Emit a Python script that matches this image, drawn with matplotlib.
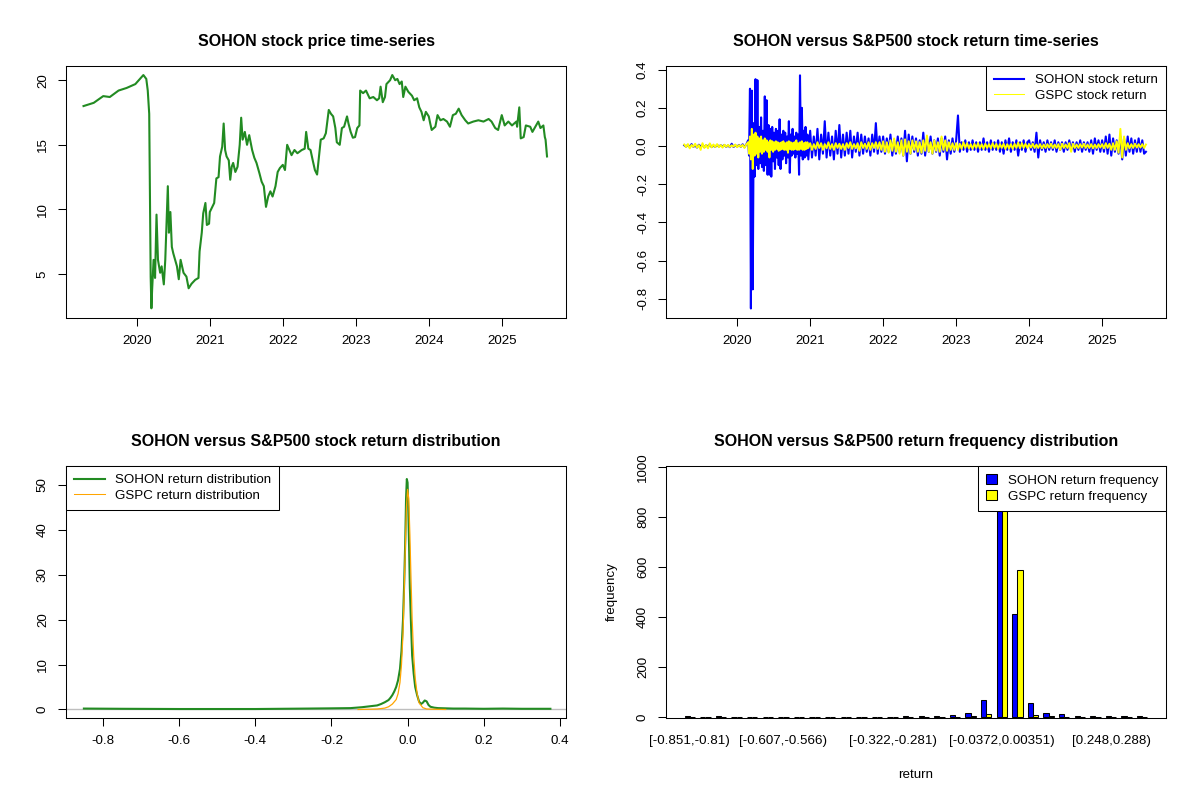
import numpy as np
import matplotlib.pyplot as plt
from matplotlib.lines import Line2D
from matplotlib.patches import Patch

# ---- data ----
# SOHON price (decimal year, price)
price_year = [2019.27, 2019.41, 2019.54, 2019.63, 2019.75, 2019.86, 2019.98, 2020.09, 2020.13, 2020.15,
              2020.17, 2020.18, 2020.19, 2020.20, 2020.21, 2020.23, 2020.25, 2020.27, 2020.29, 2020.32,
              2020.34, 2020.37, 2020.39, 2020.41, 2020.425, 2020.44, 2020.46, 2020.48, 2020.50, 2020.55,
              2020.575, 2020.60, 2020.64, 2020.68, 2020.71, 2020.75, 2020.80, 2020.845, 2020.86, 2020.89,
              2020.91, 2020.94, 2020.96, 2020.99, 2021.00, 2021.06, 2021.09, 2021.12, 2021.14, 2021.17,
              2021.19, 2021.21, 2021.23, 2021.26, 2021.28, 2021.30, 2021.32, 2021.35, 2021.38, 2021.41,
              2021.43, 2021.45, 2021.48, 2021.51, 2021.54, 2021.58, 2021.61, 2021.64, 2021.68, 2021.71,
              2021.74, 2021.77, 2021.80, 2021.83, 2021.86, 2021.90, 2021.93, 2021.96, 2022.00, 2022.03,
              2022.06, 2022.09, 2022.12, 2022.16, 2022.20, 2022.26, 2022.30, 2022.32, 2022.35, 2022.38,
              2022.41, 2022.44, 2022.47, 2022.49, 2022.52, 2022.56, 2022.59, 2022.63, 2022.66, 2022.69,
              2022.72, 2022.74, 2022.78, 2022.81, 2022.84, 2022.88, 2022.90, 2022.93, 2022.96, 2022.99,
              2023.02, 2023.05, 2023.06, 2023.10, 2023.14, 2023.19, 2023.24, 2023.29, 2023.32, 2023.34,
              2023.37, 2023.40, 2023.42, 2023.47, 2023.50, 2023.54, 2023.57, 2023.60, 2023.63, 2023.65,
              2023.68, 2023.72, 2023.77, 2023.80, 2023.84, 2023.87, 2023.90, 2023.93, 2023.96, 2024.00,
              2024.02, 2024.04, 2024.09, 2024.12, 2024.16, 2024.20, 2024.25, 2024.29, 2024.33, 2024.37,
              2024.41, 2024.45, 2024.50, 2024.54, 2024.61, 2024.68, 2024.75, 2024.82, 2024.86, 2024.91,
              2024.95, 2025.00, 2025.04, 2025.09, 2025.14, 2025.20, 2025.21, 2025.24, 2025.26, 2025.30,
              2025.33, 2025.39, 2025.42, 2025.46, 2025.50, 2025.53, 2025.57, 2025.59, 2025.60, 2025.62]
price_value = [18.0, 18.25, 18.77, 18.7, 19.2, 19.4, 19.7, 20.4, 20.1, 19.2,
               17.4, 11.3, 4.8, 2.35, 3.8, 6.1, 4.7, 9.6, 6.1, 5.1,
               5.6, 4.2, 6.1, 9.5, 11.8, 8.2, 9.8, 7.1, 6.6, 5.6,
               4.6, 6.1, 5.1, 4.8, 3.9, 4.25, 4.55, 4.7, 6.75, 8.2,
               9.7, 10.5, 8.8, 8.9, 9.8, 10.5, 12.4, 12.5, 14.1, 14.85,
               16.65, 14.6, 14.1, 13.8, 12.3, 13.3, 13.6, 12.9, 13.3, 15.0,
               17.1, 15.4, 16.0, 15.0, 15.75, 14.6, 14.0, 13.6, 12.8, 12.15,
               11.8, 10.2, 11.0, 11.4, 11.0, 11.8, 12.9, 13.2, 13.45, 13.05,
               15.0, 14.6, 14.2, 14.6, 14.35, 14.6, 14.7, 16.0, 14.7, 14.6,
               13.8, 13.05, 12.7, 13.8, 15.4, 15.5, 15.9, 17.7, 17.4, 17.2,
               16.3, 15.2, 15.0, 16.3, 16.4, 17.2, 16.65, 16.0, 15.55, 15.6,
               16.3, 16.5, 19.2, 19.0, 19.2, 18.6, 18.7, 18.45, 18.6, 19.5,
               18.3, 18.7, 19.7, 20.0, 20.4, 20.0, 20.1, 19.7, 19.9, 18.7,
               19.5, 19.1, 18.8, 18.45, 18.6, 17.9, 17.55, 16.9, 17.55, 17.2,
               16.65, 16.15, 16.4, 17.3, 16.9, 17.0, 16.8, 16.4, 17.3, 17.4,
               17.8, 17.3, 16.9, 16.65, 16.8, 16.9, 16.8, 17.0, 16.8, 16.3,
               16.15, 17.3, 16.5, 16.8, 16.5, 16.8, 16.4, 17.9, 15.5, 15.6,
               16.5, 16.4, 16.0, 16.4, 16.8, 16.3, 16.5, 15.6, 15.4, 14.1]

# returns, three periods, each evenly spaced over its span
span_pre = (2019.28, 2020.13)
span_2020 = (2020.155, 2020.98)
span_post = (2021.005, 2025.605)

sohon_ret_pre = [0.004, -0.003, 0.006, -0.005, 0.010, -0.004, 0.003, -0.008, 0.007, -0.002,
                 0.005, -0.006, 0.004, -0.003, 0.008, -0.005, 0.002, -0.004, 0.006, -0.003,
                 0.004, -0.002, 0.005, -0.004, 0.003, -0.006, 0.012, -0.005, 0.004, -0.003,
                 0.006, -0.004, 0.009, -0.006, 0.008]
sohon_ret_2020 = [0.03, -0.05, 0.30, -0.85, 0.29, -0.75, 0.12, -0.16, 0.35, -0.10,
                  0.345, -0.12, 0.10, -0.09, 0.15, -0.11, 0.08, -0.13, 0.26, -0.10,
                  0.24, -0.15, 0.11, -0.15, 0.09, -0.16, 0.10, -0.08, 0.07, -0.12,
                  0.09, -0.06, 0.08, -0.10, 0.14, -0.12, 0.06, -0.07, 0.08, -0.05,
                  0.07, -0.09, 0.05, -0.06, 0.13, -0.14, 0.06, -0.05, 0.09, -0.04,
                  0.05, -0.06, 0.07, -0.04, 0.06, -0.15, 0.37, -0.05, 0.20, -0.07,
                  0.08, -0.06, 0.10, -0.05, 0.06, -0.07]
sohon_ret_post = [0.08, -0.06, 0.05, -0.05, 0.09, -0.07, 0.06, -0.04, 0.13, -0.06,
                  0.07, -0.05, 0.05, -0.07, 0.08, -0.04, 0.11, -0.06, 0.06, -0.05,
                  0.07, -0.04, 0.08, -0.06, 0.05, -0.03, 0.07, -0.05, 0.06, -0.04,
                  0.05, -0.03, 0.04, -0.05, 0.06, -0.03, 0.12, -0.04, 0.05, -0.03,
                  0.05, -0.04, 0.04, -0.03, 0.06, -0.05, 0.03, -0.04, 0.05, -0.03,
                  0.04, -0.05, 0.08, -0.08, 0.06, -0.04, 0.05, -0.03, 0.04, -0.05,
                  0.03, -0.04, 0.07, -0.05, 0.04, -0.03, 0.05, -0.04, 0.03, -0.03,
                  0.04, -0.05, 0.04, -0.03, 0.05, -0.07, 0.03, -0.04, 0.04, -0.03,
                  0.03, 0.16, -0.03, 0.02, -0.02, 0.03, -0.03, 0.02, -0.02, 0.03,
                  -0.02, 0.02, -0.03, 0.02, -0.02, 0.04, -0.02, 0.02, -0.03, 0.03,
                  -0.02, 0.02, -0.02, 0.03, -0.03, 0.02, -0.04, 0.03, -0.02, 0.04,
                  -0.03, 0.02, -0.02, 0.03, -0.05, 0.02, -0.02, 0.03, -0.03, 0.02,
                  0.03, -0.02, 0.02, -0.03, 0.07, -0.06, 0.03, -0.02, 0.02, -0.03,
                  0.03, -0.02, 0.02, -0.02, 0.03, -0.03, 0.02, -0.02, 0.02, -0.03,
                  0.02, -0.02, 0.03, -0.02, 0.02, -0.03, 0.02, -0.02, 0.03, -0.03,
                  0.02, -0.02, 0.02, -0.03, 0.03, -0.04, 0.04, -0.02, 0.03, -0.03,
                  0.03, -0.03, 0.05, -0.04, 0.06, -0.05, 0.04, -0.03, 0.03, -0.04,
                  0.05, -0.07, 0.04, -0.05, 0.05, -0.03, 0.04, -0.04, 0.03, -0.03,
                  0.04, -0.03, 0.03, -0.04, -0.03]

gspc_ret_pre = [0.008, -0.005, 0.010, -0.012, 0.006, -0.004, 0.012, -0.008, 0.005, -0.020,
                0.015, -0.010, 0.006, -0.012, 0.014, -0.007, 0.008, -0.005, 0.010, -0.006,
                0.005, -0.008, 0.007, -0.004, 0.006, -0.005, 0.004, -0.003, 0.008, -0.006,
                0.005, -0.004, 0.006, -0.010, 0.009]
gspc_ret_2020 = [0.02, -0.04, 0.05, -0.07, 0.09, -0.12, 0.06, -0.05, 0.07, -0.04,
                 0.05, -0.06, 0.04, -0.03, 0.05, -0.04, 0.03, -0.03, 0.04, -0.02,
                 0.03, -0.03, 0.02, -0.06, 0.03, -0.02, 0.025, -0.03, 0.02, -0.02,
                 0.025, -0.015, 0.02, -0.025, 0.015, -0.02, 0.02, -0.015, 0.025, -0.02,
                 0.015, -0.02, 0.02, -0.035, 0.025, -0.015, 0.02, -0.02, 0.015, -0.02,
                 0.02, -0.015, 0.03, -0.02, 0.015, -0.02, 0.02, -0.015, 0.025, -0.02,
                 0.015, -0.02, 0.02, -0.015, 0.02, -0.01]
gspc_ret_post = [0.015, -0.02, 0.01, -0.015, 0.02, -0.01, 0.015, -0.02, 0.01, -0.012,
                 0.02, -0.015, 0.01, -0.02, 0.015, -0.01, 0.012, -0.015, 0.01, -0.02,
                 0.015, -0.01, 0.02, -0.015, 0.01, -0.012, 0.015, -0.025, 0.02, -0.01,
                 0.012, -0.015, 0.02, -0.02, 0.015, -0.01, 0.02, -0.015, 0.02, -0.02,
                 0.025, -0.03, 0.02, -0.035, 0.03, -0.025, 0.04, -0.03, 0.02, -0.04,
                 0.03, -0.05, 0.035, -0.03, 0.025, -0.04, 0.03, -0.02, 0.025, -0.03,
                 0.02, -0.035, 0.03, -0.025, 0.055, -0.03, 0.02, -0.04, 0.03, -0.025,
                 0.02, -0.03, 0.05, -0.02, 0.03, -0.025, 0.02, -0.02, 0.015, -0.02,
                 0.015, -0.02, 0.012, -0.015, 0.02, -0.01, 0.015, -0.012, 0.01, -0.015,
                 0.012, -0.01, 0.015, -0.012, 0.01, -0.015, 0.012, -0.01, 0.01, -0.012,
                 0.015, -0.01, 0.012, -0.015, 0.01, -0.01, 0.012, -0.015, 0.01, -0.012,
                 0.01, -0.015, 0.012, -0.01, 0.018, -0.012, 0.015, -0.01, 0.012, -0.01,
                 0.01, -0.008, 0.012, -0.01, 0.008, -0.01, 0.01, -0.012, 0.008, -0.01,
                 0.01, -0.008, 0.012, -0.01, 0.008, -0.01, 0.01, -0.02, 0.012, -0.01,
                 0.008, -0.01, 0.015, -0.03, 0.012, -0.01, 0.008, -0.01, 0.01, -0.008,
                 0.012, -0.01, 0.008, -0.01, 0.01, -0.012, 0.008, -0.01, 0.01, -0.008,
                 0.01, -0.012, 0.015, -0.01, 0.012, -0.02, 0.015, -0.02, 0.025, -0.035,
                 0.09, -0.06, 0.05, -0.02, 0.015, -0.012, 0.01, -0.01, 0.012, -0.008,
                 0.01, -0.008, 0.01, -0.01, 0.008]

# return densities
sohon_dens_x = [-0.85, -0.75, -0.60, -0.40, -0.26, -0.20, -0.15, -0.12, -0.10, -0.08,
                -0.07, -0.06, -0.05, -0.045, -0.04, -0.035, -0.03, -0.025, -0.02, -0.016,
                -0.012, -0.009, -0.006, -0.004, -0.002, 0.0, 0.002, 0.004, 0.006, 0.009,
                0.012, 0.016, 0.02, 0.025, 0.03, 0.035, 0.04, 0.045, 0.05, 0.055,
                0.06, 0.07, 0.08, 0.10, 0.12, 0.15, 0.20, 0.25, 0.30, 0.375]
sohon_dens_y = [0.2, 0.15, 0.1, 0.1, 0.2, 0.25, 0.3, 0.5, 0.7, 0.9,
                1.2, 1.6, 2.1, 2.6, 3.2, 4.0, 5.0, 6.5, 9.0, 13,
                20, 28, 38, 47, 51.3, 50.5, 44, 36, 27, 19,
                12, 8, 5, 3.2, 1.8, 1.2, 1.5, 2.0, 1.8, 1.0,
                0.6, 0.4, 0.3, 0.25, 0.2, 0.2, 0.15, 0.2, 0.15, 0.15]
gspc_dens_x = [-0.13, -0.10, -0.08, -0.06, -0.05, -0.04, -0.03, -0.025, -0.02, -0.016,
               -0.012, -0.009, -0.006, -0.003, 0.0, 0.003, 0.006, 0.009, 0.012, 0.016,
               0.02, 0.025, 0.03, 0.04, 0.05, 0.07, 0.10]
gspc_dens_y = [0.0, 0.05, 0.1, 0.3, 0.6, 1.2, 2.2, 3.5, 6.0, 10,
               17, 26, 36, 45, 49, 47, 39, 29, 20, 12,
               7, 3.5, 1.5, 0.4, 0.1, 0.05, 0.0]

# return frequency per bin (30 bins)
sohon_freq = [2, 0, 2, 0, 0, 0, 0, 0, 0, 0, 0, 0, 0, 0, 2,
              2, 3, 8, 16, 68, 975, 412, 57, 16, 10, 3, 2, 2, 2, 2]
gspc_freq = [0, 0, 0, 0, 0, 0, 0, 0, 0, 0, 0, 0, 0, 0, 0,
             0, 0, 1, 4, 11, 980, 588, 7, 3, 1, 0, 0, 0, 0, 0]
bin_label_idx = [0, 6, 13, 20, 27]
bin_labels = ["[-0.851,-0.81)", "[-0.607,-0.566)", "[-0.322,-0.281)",
              "[-0.0372,0.00351)", "[0.248,0.288)"]

years = [2020, 2021, 2022, 2023, 2024, 2025]

# ---- style (R base graphics look) ----
plt.rcParams.update({'font.family': ['Liberation Sans', 'DejaVu Sans'], 'font.size': 9.6})
FS_TITLE = 11.5
LW = 0.75
green = '#228B22'

def r_style(ax):
    for s in ax.spines.values():
        s.set_linewidth(LW)
    ax.tick_params(direction='out', length=5.8, width=LW, pad=6.5, labelsize=9.6)
    ax.tick_params(axis='y', labelrotation=90)
    plt.setp(ax.get_yticklabels(), va='center')

def r_legend(ax, handles, labels, loc, **kw):
    leg = ax.legend(handles, labels, loc=loc, borderaxespad=0, fancybox=False,
                    framealpha=1, edgecolor='black', fontsize=9.6,
                    labelspacing=0.25, borderpad=0.6, handletextpad=0.8, **kw)
    leg.get_frame().set_linewidth(LW)
    return leg

def period_x(*parts):
    # each part: (span, values) -> evenly spaced dates over the span
    return np.concatenate([np.linspace(s[0], s[1], len(v)) for s, v in parts])

fig = plt.figure(figsize=(12, 8), dpi=100)
L, R = 66 / 1200, 666 / 1200
W, H = 500 / 1200, 252 / 800
T, B = 1 - 318 / 800, 1 - 718 / 800

# 1) price
ax1 = fig.add_axes([L, T, W, H])
ax1.plot(price_year, price_value, color=green, lw=1.5)
ax1.set_xlim(2019.03, 2025.88)
ax1.set_ylim(1.6, 21.1)
ax1.set_xticks(years)
ax1.set_yticks([5, 10, 15, 20])
r_style(ax1)
ax1.set_title("SOHON stock price time-series", fontsize=FS_TITLE, fontweight='bold', pad=14.5)

# 2) returns
ax2 = fig.add_axes([R, T, W, H])
ret_x = period_x((span_pre, sohon_ret_pre), (span_2020, sohon_ret_2020), (span_post, sohon_ret_post))
sohon_ret = sohon_ret_pre + sohon_ret_2020 + sohon_ret_post
gspc_ret = gspc_ret_pre + gspc_ret_2020 + gspc_ret_post
ax2.plot(ret_x, sohon_ret, color='blue', lw=1.5)
ax2.plot(ret_x, gspc_ret, color='yellow', lw=1.4)
ax2.set_xlim(2019.03, 2025.88)
ax2.set_ylim(-0.8998, 0.4189)
ax2.set_xticks(years)
ax2.set_yticks([-0.8, -0.6, -0.4, -0.2, 0.0, 0.2, 0.4])
ax2.set_yticklabels(["-0.8", "-0.6", "-0.4", "-0.2", "0.0", "0.2", "0.4"])
r_style(ax2)
ax2.set_title("SOHON versus S&P500 stock return time-series", fontsize=FS_TITLE,
              fontweight='bold', pad=14.5)
r_legend(ax2, [Line2D([], [], color='blue', lw=1.5), Line2D([], [], color='yellow', lw=0.75)],
         ["SOHON stock return", "GSPC stock return"], 'upper right', handlelength=2.3)

# 3) density
ax3 = fig.add_axes([L, B, W, H])
ax3.axhline(0, color='#BEBEBE', lw=1)
ax3.plot(sohon_dens_x, sohon_dens_y, color=green, lw=1.5)
ax3.plot(gspc_dens_x, gspc_dens_y, color='orange', lw=0.9)
ax3.set_xlim(-0.897, 0.416)
ax3.set_ylim(-1.9, 54.2)
ax3.set_xticks([-0.8, -0.6, -0.4, -0.2, 0.0, 0.2, 0.4])
ax3.set_xticklabels(["-0.8", "-0.6", "-0.4", "-0.2", "0.0", "0.2", "0.4"])
ax3.set_yticks([0, 10, 20, 30, 40, 50])
r_style(ax3)
ax3.set_title("SOHON versus S&P500 stock return distribution", fontsize=FS_TITLE,
              fontweight='bold', pad=14.5)
r_legend(ax3, [Line2D([], [], color=green, lw=1.5), Line2D([], [], color='orange', lw=0.75)],
         ["SOHON return distribution", "GSPC return distribution"], 'upper left', handlelength=2.3)

# 4) frequency bars
ax4 = fig.add_axes([R, B, W, H])
centers = np.arange(len(sohon_freq)) * 3 + 2
ax4.bar(centers - 0.5, sohon_freq, width=1, color='blue', edgecolor='black', lw=LW)
ax4.bar(centers + 0.5, gspc_freq, width=1, color='yellow', edgecolor='black', lw=LW)
ax4.set_xlim(-2.56, 93.56)
ax4.set_ylim(-4, 1003)
ax4.set_xticks([centers[i] for i in bin_label_idx])
ax4.set_xticklabels(bin_labels)
ax4.set_yticks([0, 200, 400, 600, 800, 1000])
r_style(ax4)
ax4.tick_params(axis='x', length=0, pad=12.2)
ax4.set_title("SOHON versus S&P500 return frequency distribution", fontsize=FS_TITLE,
              fontweight='bold', pad=14.5)
ax4.set_xlabel("return", fontsize=9.6)
ax4.xaxis.set_label_coords(0.5, -57 / 252)
ax4.xaxis.label.set_va('center')
ax4.set_ylabel("frequency", fontsize=9.6)
ax4.yaxis.set_label_coords(-54 / 500, 0.5)
ax4.yaxis.label.set_va('center')
r_legend(ax4, [Patch(facecolor='blue', edgecolor='black', lw=LW),
               Patch(facecolor='yellow', edgecolor='black', lw=LW)],
         ["SOHON return frequency", "GSPC return frequency"], 'upper right',
         handlelength=0.8, handleheight=0.8)

fig.savefig("out.png", dpi=100)
